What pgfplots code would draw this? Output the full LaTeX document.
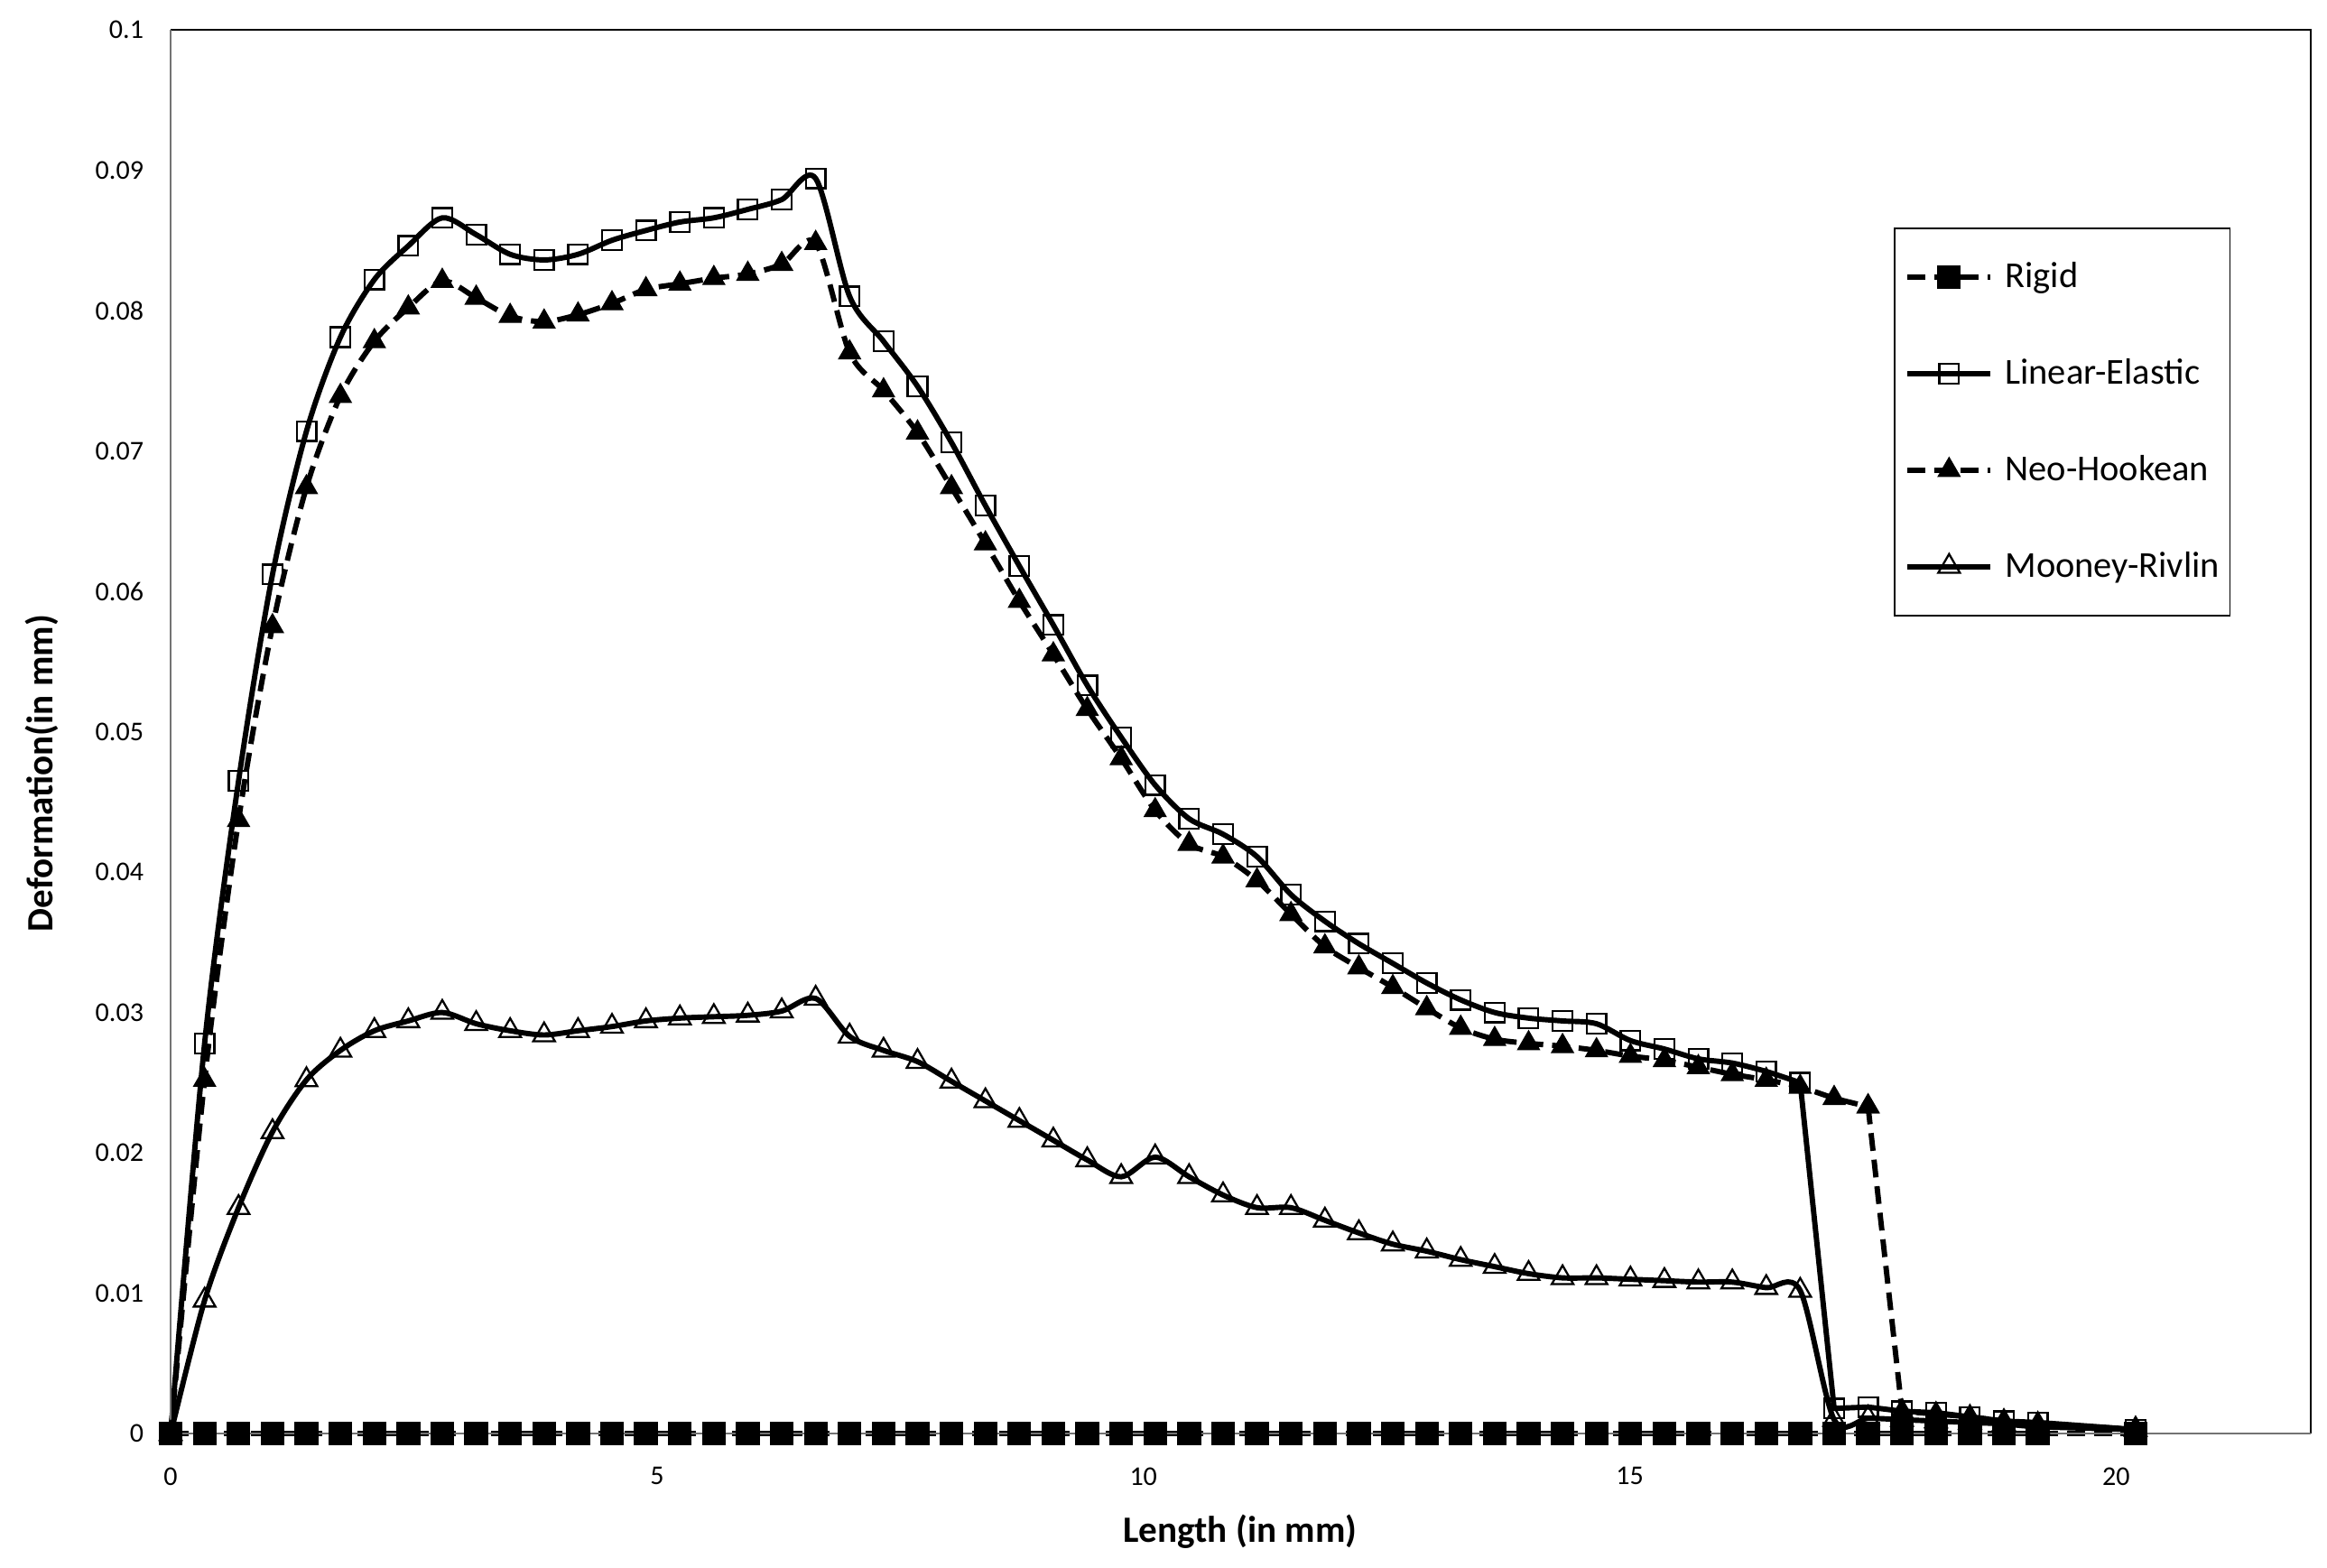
\documentclass[border=0pt]{standalone}
\usepackage{pgfplots}
\usepackage{pgfplotstable}
\pgfplotsset{compat=1.18}
\usepackage{fontspec}
\setmainfont{Carlito}
\pgfplotstableread{
x      r  le      nh      mr
0      0  0       0       0
0.349  0  0.0278  0.0252  0.0095
0.698  0  0.0465  0.0437  0.0161
1.047  0  0.0612  0.0575  0.0215
1.396  0  0.0714  0.0674  0.0252
1.745  0  0.0781  0.0739  0.0273
2.094  0  0.0822  0.0778  0.0287
2.443  0  0.0846  0.0802  0.0294
2.792  0  0.0866  0.0821  0.0300
3.141  0  0.0854  0.0809  0.0292
3.490  0  0.0840  0.0796  0.0287
3.839  0  0.0836  0.0792  0.0284
4.188  0  0.0840  0.0797  0.0287
4.537  0  0.0850  0.0805  0.0290
4.886  0  0.0857  0.0815  0.0294
5.235  0  0.0863  0.0819  0.0296
5.584  0  0.0866  0.0823  0.0297
5.933  0  0.0872  0.0826  0.0298
6.282  0  0.0879  0.0833  0.0301
6.631  0  0.0894  0.0848  0.0310
6.980  0  0.0810  0.0770  0.0283
7.329  0  0.0778  0.0743  0.0273
7.678  0  0.0746  0.0713  0.0265
8.027  0  0.0706  0.0674  0.0251
8.376  0  0.0661  0.0634  0.0237
8.725  0  0.0618  0.0593  0.0223
9.074  0  0.0576  0.0555  0.0209
9.423  0  0.0533  0.0516  0.0195
9.772  0  0.0496  0.0481  0.0183
10.121 0  0.0462  0.0444  0.0197
10.470 0  0.0438  0.0420  0.0183
10.819 0  0.0427  0.0411  0.0170
11.168 0  0.0411  0.0394  0.0161
11.517 0  0.0384  0.0370  0.0161
11.866 0  0.0365  0.0347  0.0152
12.215 0  0.0349  0.0332  0.0143
12.564 0  0.0335  0.0318  0.0135
12.913 0  0.0321  0.0303  0.0130
13.262 0  0.0309  0.0289  0.0124
13.611 0  0.0300  0.0281  0.0119
13.960 0  0.0296  0.0278  0.0114
14.309 0  0.0294  0.0276  0.0111
14.658 0  0.0292  0.0273  0.0111
15.007 0  0.0280  0.0269  0.0110
15.356 0  0.0274  0.0266  0.0109
15.705 0  0.0267  0.0261  0.0108
16.054 0  0.0264  0.0256  0.0108
16.403 0  0.0258  0.0252  0.0104
16.752 0  0.0250  0.0247  0.0102
17.101 0  0.0018  0.0239  0.0010
17.450 0  0.0019  0.0233  0.0011
17.799 0  0.0016  0.0016  0.0010
18.148 0  0.0015  0.0014  0.0009
18.497 0  0.0012  0.0012  0.0008
18.846 0  0.0009  0.0009  0.0007
19.195 0  0.0008  0.0007  0.0005
20.200 0  0.0003  0.0003  0.0003
}\datatable
\begin{document}
\begin{tikzpicture}
\begin{axis}[
  name=ax,
  scale only axis, width=360.5mm, height=236.5mm,
  xmin=0, xmax=22, ymin=0, ymax=0.1,
  clip=false,
  axis line style={draw=none},
  major tick length=0pt,
  xtick={0,5,10,15,20}, xticklabels={0,5,10,15,20},
  ytick={0,0.01,0.02,0.03,0.04,0.05,0.06,0.07,0.08,0.09,0.1},
  yticklabels={0,0.01,0.02,0.03,0.04,0.05,0.06,0.07,0.08,0.09,0.1},
  ticklabel style={font=\fontsize{13pt}{15pt}\selectfont},
  xticklabel style={anchor=north, inner sep=0pt, yshift=-5.6mm},
  yticklabel style={anchor=east, inner sep=0pt, xshift=-4.5mm},
  xlabel={Length (in mm)}, ylabel={Deformation(in mm)},
  every axis x label/.style={at={(axis description cs:0.4997,-0.0695)}, anchor=center,
    font=\fontsize{17.8pt}{20pt}\selectfont\bfseries},
  every axis y label/.style={at={(axis description cs:-0.0603,0.4704)}, anchor=center, rotate=90,
    font=\fontsize{17.8pt}{20pt}\selectfont\bfseries},
  legend style={at={(axis description cs:0.8051,0.8594)}, anchor=north west,
    draw=black, line width=0.3mm, inner xsep=1.75mm, inner ysep=5.6mm,
    row sep=10.9mm, column sep=2mm,
    font=\fontsize{17.5pt}{20pt}\selectfont,
    nodes={inner sep=0pt, text height=4.5mm, text depth=0.85mm}},
  legend cell align=left,
  legend image code/.code={\draw[mark repeat=2, mark phase=2, #1] plot coordinates {(0mm,0mm) (7mm,0mm) (14mm,0mm)};},
  every axis plot/.append style={line width=0.9mm, black},
  rig/.style={dash pattern=on 3mm off 1.5mm, mark=square*, mark size=1.9mm, mark options={solid, fill=black, line width=0.2mm}},
  lin/.style={solid, mark=square, mark size=1.65mm, mark options={solid, line width=0.35mm}},
  neo/.style={dash pattern=on 3mm off 1.5mm, mark=triangle*, mark size=2.1mm, mark options={solid, fill=black, line width=0.2mm}},
  moo/.style={solid, mark=triangle, mark size=2.1mm, mark options={solid, line width=0.35mm}},
]
\addplot[rig] table[x=x, y=r] {\datatable};
\addlegendentry{Rigid}
\addplot[lin, smooth, tension=0.5, restrict x to domain=0:16.76] table[x=x, y=le] {\datatable};
\addlegendentry{Linear-Elastic}
\addplot[neo, smooth, tension=0.5, restrict x to domain=0:17.46] table[x=x, y=nh] {\datatable};
\addlegendentry{Neo-Hookean}
\addplot[moo, smooth, tension=0.5] table[x=x, y=mr] {\datatable};
\addlegendentry{Mooney-Rivlin}
\addplot[lin, forget plot, restrict x to domain=16.74:21] table[x=x, y=le] {\datatable};
\addplot[neo, forget plot, restrict x to domain=17.44:21] table[x=x, y=nh] {\datatable};
\draw[black, line width=0.3mm] (rel axis cs:0,1) -- (rel axis cs:1,1) -- (rel axis cs:1,0);
\draw[black!55, line width=0.25mm] (rel axis cs:0,1) -- (rel axis cs:0,0) -- (rel axis cs:1,0);
\end{axis}
\pgfresetboundingbox
\path[use as bounding box] (ax.south west) ++(-28.75mm,-22.5mm) rectangle ++(392mm,264mm);
\end{tikzpicture}
\end{document}
